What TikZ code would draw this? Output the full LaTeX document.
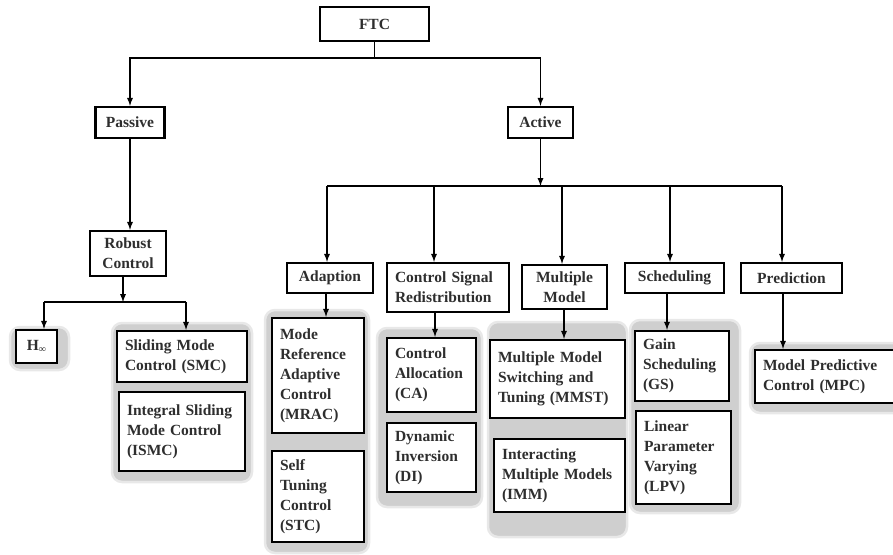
\documentclass[tikz,border=0pt]{standalone}
\usepackage{fontspec}
\setmainfont{Liberation Serif}
\usepackage{tikz}
\usetikzlibrary{arrows}

\tikzset{
  cell/.style={draw, line width=2.3pt, fill=white, inner xsep=8pt, inner ysep=2pt,
    font=\fontsize{15.5}{20}\selectfont\bfseries, text=black!82},
  group/.style={fill=black!19, draw=black!9, line width=2.5pt, rounded corners=10pt},
  link/.style={line width=1.7pt},
}

\begin{document}
\begin{tikzpicture}[x=1pt,y=-1pt]
\useasboundingbox (0,0) rectangle (893,554);

% grey groups
\draw[group] (10,327) rectangle (69,370);
\draw[group] (112,323) rectangle (252,482);
\draw[group] (265,310) rectangle (369,553);
\draw[group] (377,328) rectangle (482,507);
\draw[group] (488,322) rectangle (627,537);
\draw[group] (630,320) rectangle (740,513);
\draw[group] (750,343) rectangle (910,413);

% top levels
\node[cell, minimum width=109, minimum height=34] (ftc) at (374.5,24) {FTC};
\node[cell, minimum width=69, minimum height=31] (passive) at (130,122.5) {Passive};
\node[cell, minimum width=65, minimum height=31] (active) at (540.5,122.5) {Active};
\node[cell, align=center, minimum width=76, minimum height=45] (robust) at (128,253.5) {Robust\\Control};
\node[cell, minimum width=86, minimum height=30] (adapt) at (330,278) {Adaption};
\node[cell, align=left, text width=106pt, minimum height=49] (csr) at (448,287.5) {Control Signal\\Redistribution};
\node[cell, align=center, minimum width=85, minimum height=44] (mm) at (564.5,287) {Multiple\\Model};
\node[cell, minimum width=99, minimum height=30] (sched) at (674.5,278) {Scheduling};
\node[cell, minimum width=101, minimum height=30] (pred) at (791.5,278) {Prediction};

% methods
\node[cell, inner xsep=2pt, minimum width=41, minimum height=33] (hinf) at (36.5,346.5) {H\raisebox{-0.35ex}{\fontsize{10}{10}\selectfont ∞}};
\node[cell, align=left, text width=114pt, minimum height=51] (smc) at (182,356.5) {Sliding Mode\\Control (SMC)};
\node[cell, align=left, text width=110pt, minimum height=79] (ismc) at (182,431.5) {Integral Sliding\\Mode Control\\(ISMC)};
\node[cell, align=left, text width=76pt, minimum height=115] (mrac) at (318,375.5) {Mode\\Reference\\Adaptive\\Control\\(MRAC)};
\node[cell, align=left, text width=76pt, minimum height=91] (stc) at (318,496.5) {Self\\Tuning\\Control\\(STC)};
\node[cell, align=left, text width=73pt, minimum height=74] (ca) at (431.5,375) {Control\\Allocation\\(CA)};
\node[cell, align=left, text width=73pt, minimum height=69] (di) at (431.5,457.5) {Dynamic\\Inversion\\(DI)};
\node[cell, align=left, text width=119pt, minimum height=78] (mmst) at (557.5,379) {Multiple Model\\Switching and\\Tuning (MMST)};
\node[cell, align=left, text width=115pt, minimum height=73] (imm) at (559.5,475.5) {Interacting\\Multiple Models\\(IMM)};
\node[cell, align=left, text width=78pt, minimum height=70] (gs) at (682,366) {Gain\\Scheduling\\(GS)};
\node[cell, align=left, text width=79pt, minimum height=93] (lpv) at (683.5,457.5) {Linear\\Parameter\\Varying\\(LPV)};
\node[cell, align=left, text width=129pt, minimum height=53] (mpc) at (827.5,376.5) {Model Predictive\\Control (MPC)};

% FTC branches
\coordinate (ftcbar) at (374.5,58);
\draw[link] (ftc.south) -- (ftcbar);
\draw[link,-latex] (ftcbar) -| (passive.north);
\draw[link,-latex] (ftcbar) -| (active.north);
\draw[link,-latex] (passive.south) -- (passive.south |- robust.north);

% passive side
\coordinate (rb) at (123,302);
\coordinate (rbL) at (44,302);
\coordinate (rbR) at (186,302);
\draw[link,-latex] (robust.south -| rb) -- (rb);
\draw[link] (rbL) -- (rbR);
\draw[link,-latex] (rbL) -- (rbL |- hinf.north);
\draw[link,-latex] (rbR) -- (rbR |- smc.north);

% active side
\coordinate (ab) at (540.5,186);
\draw[link,-latex] (active.south) -- (ab);
\foreach \n/\x in {adapt/327,csr/434,mm/562,sched/670,pred/782}{
  \coordinate (\n-top) at (\x,186);
  \draw[link,-latex] (\n-top) -- (\n-top |- \n.north);
}
\draw[link] (adapt-top) -- (pred-top);
\foreach \p/\c/\x in {adapt/mrac/326,csr/ca/435,mm/mmst/564,sched/gs/667,pred/mpc/783}{
  \coordinate (\c-in) at (\x,0);
  \draw[link,-latex] (\c-in |- \p.south) -- (\c-in |- \c.north);
}
\end{tikzpicture}
\end{document}
